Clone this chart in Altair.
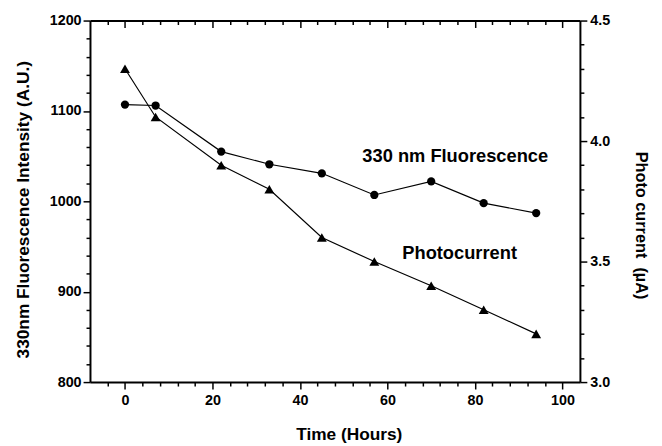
import altair as alt
import pandas as pd

# ---- data ----
hours = [0, 7, 22, 33, 45, 57, 70, 82, 94]
fluorescence = [1107, 1106, 1055, 1041, 1031, 1007, 1022, 998, 987]
photocurrent = [4.30, 4.10, 3.90, 3.80, 3.60, 3.50, 3.40, 3.30, 3.20]

label_text = ["330 nm Fluorescence", "Photocurrent"]
label_x = [75.5, 76.5]
label_y = [1050, 943]

x_ticks = [-4, 0, 4, 8, 12, 16, 20, 24, 28, 32, 36, 40, 44, 48, 52, 56, 60,
           64, 68, 72, 76, 80, 84, 88, 92, 96, 100]
yl_ticks = [800, 820, 840, 860, 880, 900, 920, 940, 960, 980, 1000, 1020, 1040,
            1060, 1080, 1100, 1120, 1140, 1160, 1180, 1200]
yr_ticks = [3.0, 3.1, 3.2, 3.3, 3.4, 3.5, 3.6, 3.7, 3.8, 3.9, 4.0, 4.1, 4.2,
            4.3, 4.4, 4.5]

FONT = "Liberation Sans"

df_f = pd.DataFrame({"t": hours, "v": fluorescence})
df_p = pd.DataFrame({"t": hours, "v": photocurrent})
df_l = pd.DataFrame({"t": label_x, "v": label_y, "txt": label_text})

x_scale = alt.Scale(domain=[-8, 104], nice=False, zero=False)
yl_scale = alt.Scale(domain=[800, 1200], nice=False, zero=False)
yr_scale = alt.Scale(domain=[3.0, 4.5], nice=False, zero=False)

common = dict(
    grid=False, domainColor="black", domainWidth=2, tickColor="black",
    tickWidth=1.5, labelFont=FONT, labelFontSize=14.5, labelFontWeight="bold",
    labelColor="black", labelOverlap=False, labelFlush=False,
    titleFont=FONT, titleFontSize=17.5, titleFontWeight="bold", titleColor="black",
)

x_bottom = alt.Axis(
    orient="bottom", values=x_ticks, format="d",
    tickSize={"condition": {"test": "datum.value % 20 === 0", "value": 7}, "value": 4},
    labelExpr="datum.value % 20 === 0 ? datum.label : ''",
    labelPadding=5, title="Time (Hours)", titleX=262, titleY=53,
    titleBaseline="middle", **common)

x_top = alt.Axis(
    orient="top", values=x_ticks,
    tickSize={"expr": "datum.value % 20 === 0 ? -7 : -4"},
    labels=False, title=None, **common)

y_left = alt.Axis(
    orient="left", values=yl_ticks, format="d",
    tickSize={"condition": {"test": "datum.value % 100 === 0", "value": 7}, "value": 4},
    labelExpr="datum.value % 100 === 0 ? datum.label : ''",
    labelPadding=2, title="330nm Fluorescence Intensity (A.U.)",
    titleX=-67, titleY=191, titleBaseline="middle", titleAngle=-90, **common)

common_r = dict(common)
common_r["titleFontSize"] = 16.5
major_r = "abs(datum.value * 2 - round(datum.value * 2)) < 0.001"
y_right = alt.Axis(
    orient="right", values=yr_ticks, format=".1f",
    tickSize={"condition": {"test": major_r, "value": 7}, "value": 4},
    labelExpr=major_r + " ? datum.label : ''",
    labelPadding=3, title="Photo current\u00a0 (\u00b5A)",
    titleX=61, titleY=207, titleBaseline="middle", titleAngle=90, **common_r)

base_f = alt.Chart(df_f).encode(
    x=alt.X("t:Q", scale=x_scale, axis=x_bottom),
    y=alt.Y("v:Q", scale=yl_scale, axis=y_left),
)
f_line = base_f.mark_line(color="black", strokeWidth=1.2)
f_pts = base_f.mark_point(shape="circle", filled=True, color="black", size=70, opacity=1)
f_lab = alt.Chart(df_l).mark_text(
    font=FONT, fontSize=18.5, fontWeight="bold", color="black",
    align="center", baseline="middle"
).encode(
    x=alt.X("t:Q", scale=x_scale, axis=x_bottom),
    y=alt.Y("v:Q", scale=yl_scale, axis=y_left),
    text="txt:N",
)
fl = alt.layer(f_line, f_pts, f_lab)

base_p = alt.Chart(df_p).encode(
    x=alt.X("t:Q", scale=x_scale, axis=x_top),
    y=alt.Y("v:Q", scale=yr_scale, axis=y_right),
)
p_line = base_p.mark_line(color="black", strokeWidth=1.2)
p_pts = base_p.mark_point(shape="triangle-up", filled=True, color="black", size=100, opacity=1)
ph = alt.layer(p_line, p_pts)

chart = alt.layer(fl, ph).resolve_scale(y="independent").resolve_axis(
    x="independent", y="independent"
).properties(
    width=496, height=366,
    autosize=alt.AutoSizeParams(type="none"),
    padding={"left": 83, "top": 10, "right": 75, "bottom": 62},
    background="white",
).configure_view(stroke=None)

chart.save("out.html", embed_options={"renderer": "svg", "actions": False})
